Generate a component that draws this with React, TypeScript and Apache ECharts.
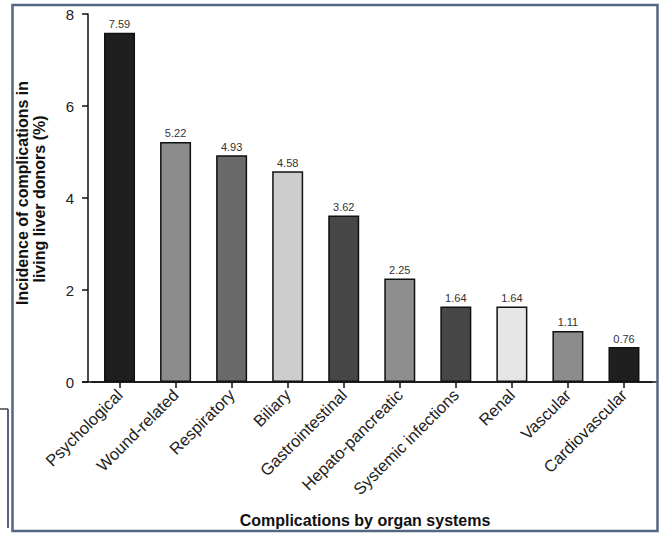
import React, { useEffect, useRef } from "react";
import * as echarts from "echarts";

const categories = [
  "Psychological",
  "Wound-related",
  "Respiratory",
  "Biliary",
  "Gastrointestinal",
  "Hepato-pancreatic",
  "Systemic infections",
  "Renal",
  "Vascular",
  "Cardiovascular",
];
const values = [7.59, 5.22, 4.93, 4.58, 3.62, 2.25, 1.64, 1.64, 1.11, 0.76];
const barColors = [
  "#1f1f1f",
  "#8c8c8c",
  "#6a6a6a",
  "#cdcdcd",
  "#474747",
  "#8e8e8e",
  "#474747",
  "#e6e6e6",
  "#8c8c8c",
  "#1f1f1f",
];
const yTicks = [0, 2, 4, 6, 8];

const FONT = "'Liberation Sans', Arial, Helvetica, sans-serif";

export default function App() {
  const ref = useRef<HTMLDivElement>(null);
  useEffect(() => {
    if (!ref.current) return;
    const chart = echarts.init(ref.current, null, { renderer: "svg" });
    const frameColor = "#56657f";
    chart.setOption({
      animation: false,
      backgroundColor: "#ffffff",
      grid: { left: 91.5, right: 18, top: 14, bottom: 155, containLabel: false },
      xAxis: {
        type: "category",
        data: categories,
        axisLine: { show: true, lineStyle: { color: "#111", width: 1.5 } },
        axisTick: { show: true, alignWithLabel: true, length: 6, lineStyle: { color: "#111", width: 1.5 } },
        axisLabel: {
          rotate: 45,
          interval: 0,
          margin: 10,
          fontSize: 16.5,
          color: "#222",
          fontFamily: FONT,
        },
      },
      yAxis: {
        type: "value",
        min: yTicks[0],
        max: yTicks[yTicks.length - 1],
        interval: 2,
        offset: 3.5,
        splitLine: { show: false },
        axisLine: { show: true, lineStyle: { color: "#111", width: 1.5 } },
        axisTick: { show: true, length: 6, lineStyle: { color: "#111", width: 1.5 } },
        axisLabel: { fontSize: 15, color: "#222", margin: 14, fontFamily: FONT },
      },
      series: [
        {
          type: "bar",
          data: values.map((v, i) => ({
            value: v,
            itemStyle: { color: barColors[i], borderColor: "#111", borderWidth: 1.5 },
          })),
          barWidth: 31,
          label: {
            show: true,
            position: "top",
            distance: 3,
            fontSize: 11,
            color: "#333",
            fontFamily: FONT,
            formatter: (p: any) => p.value.toFixed(2),
          },
        },
      ],
      graphic: [
        {
          type: "line",
          shape: { x1: 82, y1: 382, x2: 657, y2: 382 },
          style: { stroke: "#111", lineWidth: 1.5 },
          silent: true,
        },
        {
          type: "rect",
          shape: { x: 12.5, y: 5, width: 645, height: 526 },
          style: { fill: "none", stroke: frameColor, lineWidth: 2.5 },
          silent: true,
        },
        {
          type: "line",
          shape: { x1: 8, y1: 409, x2: 8, y2: 528 },
          style: { stroke: frameColor, lineWidth: 2 },
          silent: true,
        },
        {
          type: "line",
          shape: { x1: 0, y1: 409, x2: 8, y2: 409 },
          style: { stroke: "#444", lineWidth: 1.5 },
          silent: true,
        },
        {
          type: "text",
          x: 22,
          y: 193,
          rotation: Math.PI / 2,
          style: {
            text: "Incidence of complications in",
            fontSize: 16,
            fontWeight: "bold",
            fill: "#111",
            fontFamily: FONT,
            textAlign: "center",
            textVerticalAlign: "middle",
            verticalAlign: "middle",
          },
        },
        {
          type: "text",
          x: 39,
          y: 199,
          rotation: Math.PI / 2,
          style: {
            text: "living liver donors (%)",
            fontSize: 16,
            fontWeight: "bold",
            fill: "#111",
            fontFamily: FONT,
            textAlign: "center",
            textVerticalAlign: "middle",
            verticalAlign: "middle",
          },
        },
        {
          type: "text",
          x: 365,
          y: 520,
          style: {
            text: "Complications by organ systems",
            fontSize: 16,
            fontWeight: "bold",
            fill: "#111",
            fontFamily: FONT,
            textAlign: "center",
            textVerticalAlign: "middle",
            verticalAlign: "middle",
          },
        },
      ],
    });
    return () => chart.dispose();
  }, []);
  return <div ref={ref} style={{ width: 670, height: 537, position: "absolute", left: 0, top: 0 }} />;
}
